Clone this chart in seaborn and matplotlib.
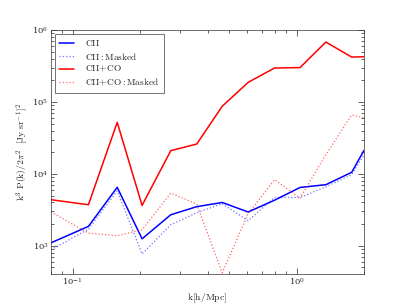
import numpy as np
import pandas as pd
import matplotlib
matplotlib.use("Agg")
import matplotlib.pyplot as plt
import seaborn as sns

# =========================
# Data
# =========================

k = [0.08, 0.1175, 0.158, 0.204, 0.274, 0.358, 0.465, 0.607, 0.796, 1.035, 1.35, 1.76, 2.0]

cii = [1100, 1860, 6500, 1250, 2700, 3500, 4000, 2950, 4300, 6470, 7070, 10500, 21300]
cii_masked = [880, 1700, 5800, 770, 1960, 2880, 3850, 2230, 4700, 4700, 6600, 9700, 18500]
cii_co = [4370, 3720, 52000, 3640, 21000, 26000, 87000, 187000, 296000, 300000, 680000, 420000, 425000]
cii_co_masked = [2950, 1500, 1380, 1670, 5400, 3800, 420, 2800, 8300, 4600, 18500, 66000, 60000]

labels = [r'$\rm CII$', r'$\rm CII : Masked$', r'$\rm CII\!+\!CO$', r'$\rm CII\!+\!CO : Masked$']

# =========================
# Style
# =========================

sns.set_style("ticks", {
    "xtick.direction": "in",
    "ytick.direction": "in",
    "xtick.top": True,
    "ytick.right": True,
})
plt.rcParams['font.family'] = ['DejaVu Serif']
plt.rcParams['mathtext.fontset'] = 'cm'
plt.rcParams['xtick.minor.visible'] = True
plt.rcParams['ytick.minor.visible'] = True

fig = plt.figure(figsize=(8.1, 6.12), dpi=50)
ax = fig.add_axes([0.126, 0.105, 0.773, 0.797])

# =========================
# Lines
# =========================

sns.lineplot(x=k, y=cii, ax=ax, color='blue', lw=2.2, label=labels[0])
sns.lineplot(x=k, y=cii_masked, ax=ax, color='blue', lw=1.8, ls=':', alpha=0.55, label=labels[1])
sns.lineplot(x=k, y=cii_co, ax=ax, color='red', lw=2.2, label=labels[2])
sns.lineplot(x=k, y=cii_co_masked, ax=ax, color='red', lw=1.8, ls=':', alpha=0.6, label=labels[3])

ax.set_xscale('log')
ax.set_yscale('log')
ax.set_xlim(0.08, 2.0)
ax.set_ylim(407, 1e6)

ax.tick_params(which='both', direction='in', top=True, right=True, labelsize=12)
ax.tick_params(which='major', length=8, width=1)
ax.tick_params(which='minor', length=4, width=1)
for s in ax.spines.values():
    s.set_linewidth(1)
    s.set_color('#333333')

ax.set_xlabel(r'$\rm k[h/Mpc]$', fontsize=14, labelpad=6)
ax.set_ylabel(r'$\rm k^3\ P(k)/2\pi^2\ \ [Jy\ sr^{-1}]^2$', fontsize=14)

leg = ax.legend(loc='upper left', fontsize=13.5, frameon=True, fancybox=False,
                handlelength=1.6, handletextpad=1.1, borderpad=0.5,
                labelspacing=0.25, borderaxespad=0.4)
leg.get_frame().set_edgecolor('#333333')
leg.get_frame().set_linewidth(1.2)

plt.savefig("out.png", dpi=50)
